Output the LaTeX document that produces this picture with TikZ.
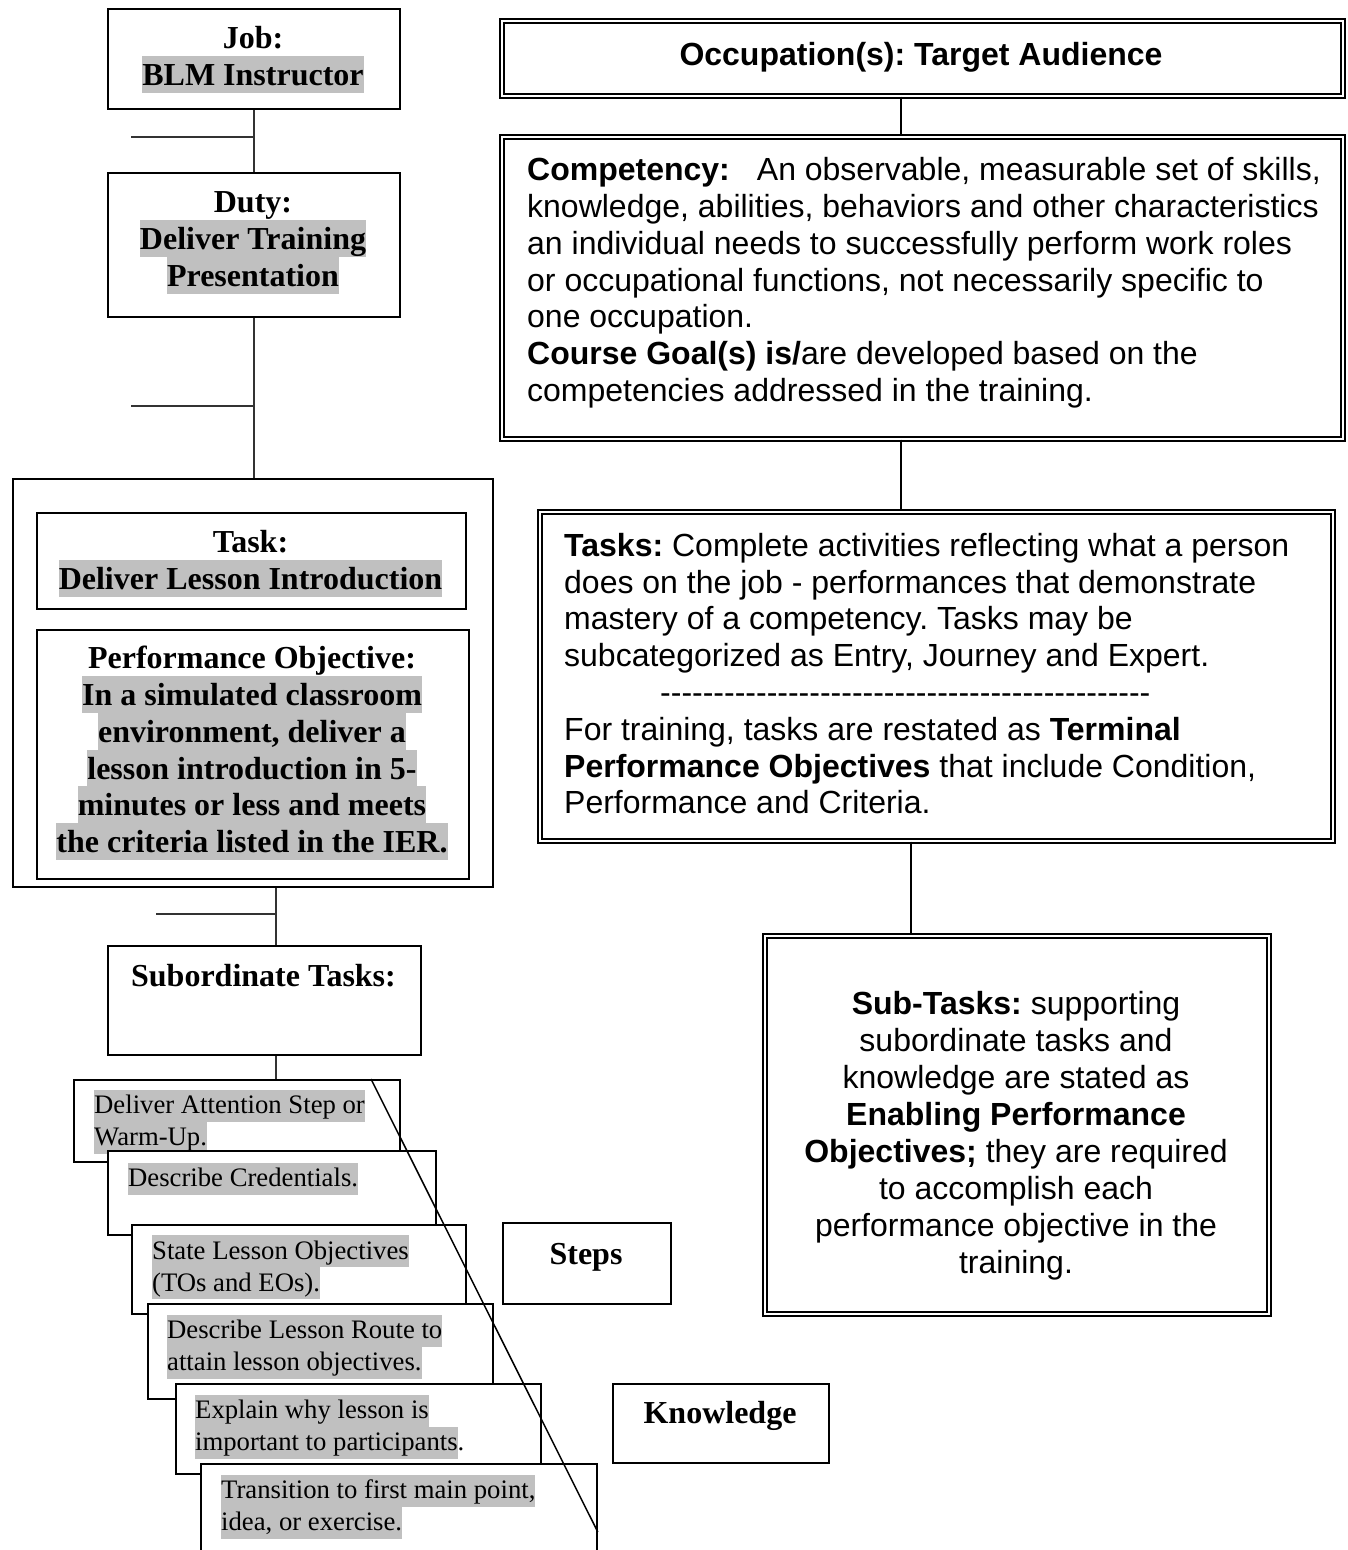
\documentclass[tikz,border=0pt]{standalone}
\usepackage{fontspec}
\setmainfont{Liberation Serif}
\newfontfamily\arial{Liberation Sans}
\frenchspacing
\definecolor{hlgray}{HTML}{C0C0C0}
\newcommand\lsA{\vrule height 29.5pt depth 7.2pt width 0pt}
\newcommand\hlA[1]{{\setlength{\fboxsep}{0pt}\colorbox{hlgray}{\lsA#1}}}
\newcommand\lsB{\vrule height 24pt depth 8pt width 0pt}
\newcommand\hlB[1]{{\setlength{\fboxsep}{0pt}\colorbox{hlgray}{\lsB#1}}}
\newcommand\lsC{\vrule height 29pt depth 7.8pt width 0pt}
\newcommand\dashrow{-{}-{}-{}-{}-{}-{}-{}-{}-{}-{}-{}-{}-{}-{}-{}-{}-{}-{}-{}-{}-{}-{}-{}-{}-{}-{}-{}-{}-{}-{}-{}-{}-{}-{}-{}-{}-{}-{}-{}-{}-{}-{}-{}-{}-{}-}
\tikzset{
  box/.style={draw=black, line width=1.8pt, fill=white, rectangle, inner sep=0pt, anchor=north west},
  dbox/.style={draw=black, double=white, double distance=2.4pt, line width=1.7pt, fill=white, rectangle, inner sep=0pt, anchor=north west},
  conn/.style={draw=black!80, line width=1.4pt},
  rconn/.style={draw=black, line width=1.5pt},
  diag/.style={draw=black, line width=1.5pt},
  big/.style={font=\fontsize{32}{37.2}\selectfont\bfseries, inner sep=0pt, align=center},
  small/.style={font=\fontsize{26.7}{32}\selectfont, inner sep=0pt, align=left, anchor=north west},
  sans/.style={font=\arial\fontsize{32}{36.8}\selectfont, inner sep=0pt},
}
\begin{document}
\begin{tikzpicture}[x=1pt,y=-1pt]
\useasboundingbox (0,0) rectangle (1348,1550);
\clip (0,0) rectangle (1348,1550);

% ---------- left column ----------
\node[box, minimum width=292pt, minimum height=100pt] (job) at (107,8) {};
\node[big, anchor=north] (tjob) at (253,18.5) {\lsA Job:\\ \hlA{BLM Instructor}};

\node[box, minimum width=292pt, minimum height=144pt] (duty) at (107,172) {};
\node[big, anchor=north] (tduty) at (253,182.5) {\lsA Duty:\\ \hlA{Deliver Training}\\ \hlA{Presentation}};

\node[box, line width=1.6pt, minimum width=480pt, minimum height=408pt] (outer) at (12,478) {};
\node[box, minimum width=429pt, minimum height=96pt] (task) at (36,512) {};
\node[big, anchor=north] (ttask) at (250.5,522.5) {\lsA Task:\\ \hlA{Deliver Lesson Introduction}};

\node[box, minimum width=432pt, minimum height=249pt] (po) at (36,629) {};
\node[big, anchor=north, font=\fontsize{32}{36.8}\selectfont\bfseries] (tpo) at (252,639) {\lsA Performance Objective:\\
  \hlA{In a simulated classroom}\\
  \hlA{environment, deliver a}\\
  \hlA{lesson introduction in 5-}\\
  \hlA{minutes or less and meets}\\
  \hlA{the criteria listed in the IER.}};

\node[box, minimum width=313pt, minimum height=109pt] (sub) at (107,945) {};
\node[big, anchor=base] (tsub) at (263.5,986) {Subordinate Tasks:};

% connectors on the left
\coordinate (k1) at (131,137);
\coordinate (k2) at (131,406);
\coordinate (k3) at (156,914);
\coordinate (xa) at (276,0);
\draw[conn] (job.south) -- (duty.north);
\draw[conn] (k1) -- (k1 -| job.south);
\draw[conn] (duty.south) -- (duty.south |- outer.north);
\draw[conn] (k2) -- (k2 -| duty.south);
\draw[conn] (outer.south -| xa) -- (sub.north -| xa);
\draw[conn] (k3) -- (k3 -| xa);

% stacked step boxes
\node[box, minimum width=326pt, minimum height=82pt] (b1) at (73,1079) {};
\node[small] (tb1) at (94,1089.5) {\hlB{Deliver Attention Step or}\\ \hlB{Warm-Up.}};
\node[box, minimum width=328pt, minimum height=84pt] (b2) at (107,1150) {};
\node[small] (tb2) at (128,1162.5) {\hlB{Describe Credentials.}};
\node[box, minimum width=334pt, minimum height=89pt] (b3) at (131,1224) {};
\node[small] (tb3) at (152,1235) {\hlB{State Lesson Objectives}\\ \hlB{(TOs and EOs).}};
\node[box, minimum width=345pt, minimum height=95pt] (b4) at (147,1303) {};
\node[small] (tb4) at (167,1314.5) {\hlB{Describe Lesson Route to}\\ \hlB{attain lesson objectives.}};
\node[box, minimum width=365pt, minimum height=90pt] (b5) at (175,1383) {};
\node[small] (tb5) at (195,1394.5) {\hlB{Explain why lesson is}\\ \hlB{important to participants}.};
\node[box, minimum width=396pt, minimum height=100pt] (b6) at (200,1463) {};
\node[small] (tb6) at (221,1474.5) {\hlB{Transition to first main point,}\\ \hlB{idea, or exercise.}};

\draw[conn] (sub.south -| xa) -- (b1.north -| xa);
\coordinate (xd) at (371,0);
\coordinate (yd) at (0,1532);
\draw[diag] (b1.north -| xd) -- (b6.east |- yd);

\node[box, minimum width=168pt, minimum height=81pt] (steps) at (502,1222) {};
\node[big, anchor=base] (tsteps) at (586,1264) {Steps};
\node[box, minimum width=216pt, minimum height=79pt] (know) at (612,1383) {};
\node[big, anchor=base] (tknow) at (720,1423) {Knowledge};

% ---------- right column ----------
\node[dbox, minimum width=841pt, minimum height=75pt] (occ) at (501,20) {};
\node[sans, anchor=base, font=\arial\fontsize{32}{36.8}\selectfont\bfseries] (tocc) at (921,65) {Occupation(s): Target Audience};

\node[dbox, minimum width=841pt, minimum height=302pt] (comp) at (501,136) {};
\node[sans, anchor=north west, align=left] (tcomp) at (527,151.5) {\lsC\textbf{Competency:}\hspace{27pt}An observable, measurable set of skills,\\
  knowledge, abilities, behaviors and other characteristics\\
  an individual needs to successfully perform work roles\\
  or occupational functions, not necessarily specific to\\
  one occupation.\\
  \textbf{Course Goal(s) is/}are developed based on the\\
  competencies addressed in the training.};

\node[dbox, minimum width=793pt, minimum height=329pt] (tasks) at (539,511) {};
\node[sans, anchor=north west, align=left] (ttasks) at (564,527) {\lsC\textbf{Tasks:} Complete activities reflecting what a person\\
  does on the job - performances that demonstrate\\
  mastery of a competency. Tasks may be\\
  subcategorized as Entry, Journey and Expert.\\
  \hspace*{96pt}\dashrow\\
  For training, tasks are restated as \textbf{Terminal}\\
  \textbf{Performance Objectives} that include Condition,\\
  Performance and Criteria.};

\node[dbox, minimum width=504pt, minimum height=378pt] (subt) at (764,935) {};
\node[sans, anchor=north, align=center, font=\arial\fontsize{32}{37}\selectfont] (tsubt) at (1016,985) {\lsC\textbf{Sub-Tasks:} supporting\\
  subordinate tasks and\\
  knowledge are stated as\\
  \textbf{Enabling Performance}\\
  \textbf{Objectives;} they are required\\
  to accomplish each\\
  performance objective in the\\
  training.};

\coordinate (xr) at (901,0);
\coordinate (xs) at (911,0);
\draw[rconn] (occ.south -| xr) -- (comp.north -| xr);
\draw[rconn] (comp.south -| xr) -- (tasks.north -| xr);
\draw[rconn] (tasks.south -| xs) -- (subt.north -| xs);
\end{tikzpicture}
\end{document}
